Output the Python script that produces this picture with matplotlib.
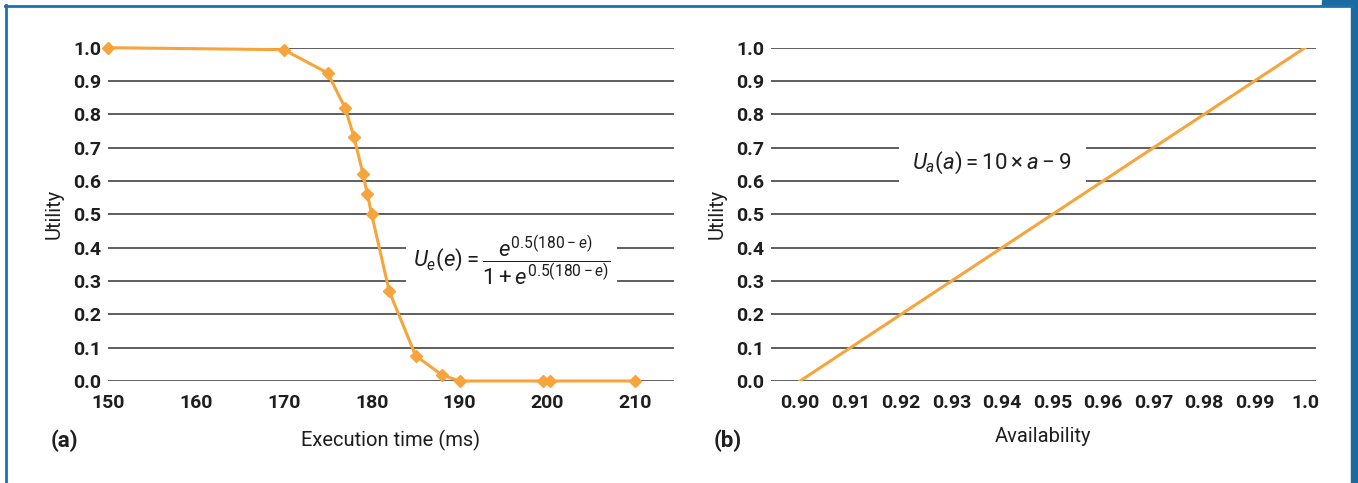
import matplotlib
matplotlib.use("Agg")
import matplotlib.pyplot as plt

fam = "Roboto"
plt.rcParams["font.family"] = [fam, "DejaVu Sans"]
plt.rcParams["mathtext.fontset"] = "custom"
plt.rcParams["mathtext.rm"] = fam
plt.rcParams["mathtext.it"] = fam + ":italic"
plt.rcParams["mathtext.bf"] = fam + ":bold"

# (a) execution time utility
exec_time = [150, 170, 175, 177, 178, 179, 179.5, 180, 182, 185, 188, 190, 199.5, 200.3, 210]
exec_utility = [1.0, 0.994, 0.924, 0.818, 0.731, 0.622, 0.562, 0.5, 0.269, 0.076, 0.018, 0.0, 0.0, 0.0, 0.0]
exec_ticks = [150, 160, 170, 180, 190, 200, 210]

# (b) availability utility
avail = [0.90, 1.0]
avail_utility = [0.0, 1.0]
avail_ticks = [0.90, 0.91, 0.92, 0.93, 0.94, 0.95, 0.96, 0.97, 0.98, 0.99, 1.0]
avail_labels = ["0.90", "0.91", "0.92", "0.93", "0.94", "0.95", "0.96", "0.97", "0.98", "0.99", "1.0"]

y_ticks = [0.0, 0.1, 0.2, 0.3, 0.4, 0.5, 0.6, 0.7, 0.8, 0.9, 1.0]

W, H = 1358, 483
orange = "#f8a43c"
blue = "#1a72b0"
ink = "#1e1e1e"

fig = plt.figure(figsize=(W / 100, H / 100), dpi=100)


def px_axes(x0, x1, ytop, ybot):
    return fig.add_axes([x0 / W, (H - ybot) / H, (x1 - x0) / W, (ybot - ytop) / H])


def style(ax):
    for s in ax.spines.values():
        s.set_visible(False)
    ax.set_ylim(0, 1)
    ax.set_yticks(y_ticks)
    ax.set_yticklabels(["%.1f" % v for v in y_ticks])
    ax.tick_params(length=0, labelsize=14, colors=ink)
    ax.tick_params(axis="y", pad=5)
    ax.tick_params(axis="x", pad=9)
    for lab in ax.get_yticklabels():
        lab.set_fontweight("bold")
    ax.yaxis.grid(True, color="#333333", linewidth=1.1)
    ax.set_axisbelow(True)
    ax.set_ylabel("Utility", fontsize=14.5, color=ink, labelpad=7)


axa = px_axes(108, 674, 47.7, 381)
style(axa)
axa.set_xlim(150, 214.4)
axa.set_xticks(exec_ticks)
for lab in axa.get_xticklabels():
    lab.set_fontweight("bold")
axa.plot(exec_time, exec_utility, color=orange, lw=2.2, marker="D", ms=6.5, clip_on=False, zorder=3)
axa.set_xlabel("Execution time (ms)", fontsize=14.5, color=ink, labelpad=13)
axa.text(0.713, 0.36, r"$U_e(e) = \dfrac{e^{0.5(180-e)}}{1+e^{0.5(180-e)}}$",
         transform=axa.transAxes, ha="center", va="center", fontsize=16, color=ink,
         bbox=dict(facecolor="white", edgecolor="none", pad=5), zorder=2)

axb = px_axes(771, 1315.7, 47.7, 381)
style(axb)
axb.set_xlim(0.89426, 1.00212)
axb.set_xticks(avail_ticks)
axb.set_xticklabels(avail_labels, fontweight="bold")
axb.plot(avail, avail_utility, color=orange, lw=2.2, zorder=3)
axb.set_xlabel("Availability", fontsize=14.5, color=ink, labelpad=11)
axb.text(0.406, 0.655, r"$U_a(a) = 10 \times a - 9$",
         transform=axb.transAxes, ha="center", va="center", fontsize=16, color=ink,
         bbox=dict(facecolor="white", edgecolor="none", pad=10), zorder=2)

fig.text(64 / W, 1 - 441 / H, "(a)", fontsize=16, fontweight="bold", ha="center", va="center", color=ink)
fig.text(728 / W, 1 - 441 / H, "(b)", fontsize=16, fontweight="bold", ha="center", va="center", color=ink)

# blue frame
fig.add_artist(plt.Line2D([5 / W, 1352 / W], [1 - 6 / H, 1 - 6 / H], color=blue, lw=2, transform=fig.transFigure))
fig.add_artist(plt.Line2D([6 / W, 6 / W], [0, 1 - 5 / H], color=blue, lw=2, transform=fig.transFigure))
fig.add_artist(plt.Rectangle((1351 / W, 0), 7 / W, 1, color="#1d6aa0", transform=fig.transFigure))
fig.add_artist(plt.Rectangle((1322 / W, 1 - 5 / H), 36 / W, 5 / H, color="#1d6aa0", transform=fig.transFigure))

fig.savefig("out.png", dpi=100)
